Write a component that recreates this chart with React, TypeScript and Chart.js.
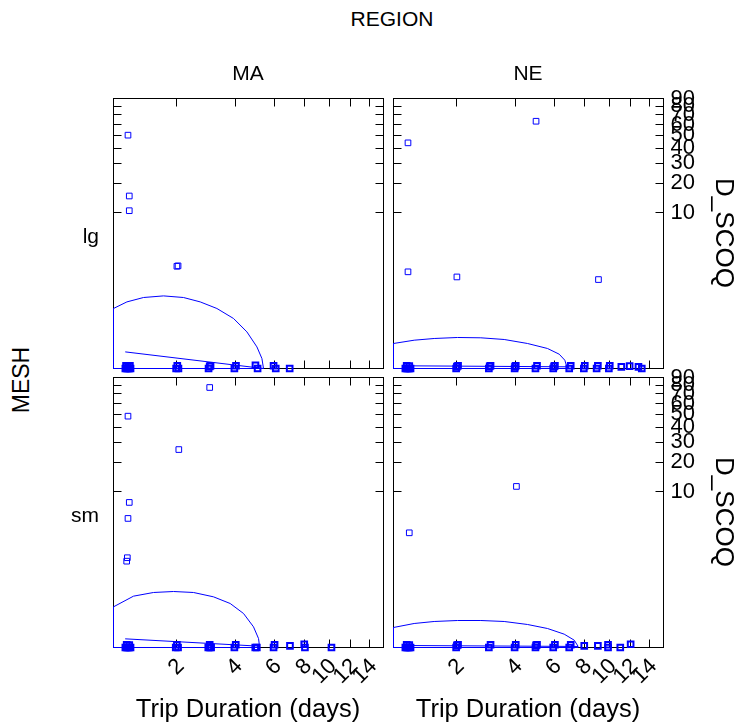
import React, { useEffect, useRef } from "react";
import { Chart, registerables } from "chart.js";
Chart.register(...registerables);

// ---- axes (fourth-root scales on both axes) ----
const X_TICKS = [2, 4, 6, 8, 10, 12, 14];
const Y_TICKS = [10, 20, 30, 40, 50, 60, 70, 80, 90];
const X_MIN_DAYS = 0.794;
const X_MAX_DAYS = 15.63;
const Y_MIN_SCOQ = 0;
const Y_MAX_SCOQ = 90;
const ROOT = 0.25;

const COLS = ["MA", "NE"];
const ROWS = ["lg", "sm"];

// ---- observations with a catch (Trip Duration days, D_SCOQ) ----
const MA_LG_DAYS = [1, 1.02, 1.02, 2.03, 2.0];
const MA_LG_SCOQ = [50.2, 15, 10.5, 1.88, 1.85];
const NE_LG_DAYS = [1, 5, 1, 2, 9.1];
const NE_LG_SCOQ = [43.9, 63.3, 1.48, 1.19, 1.06];
const MA_SM_DAYS = [3, 1, 2.05, 1.02, 1, 0.99, 0.98];
const MA_SM_SCOQ = [77.4, 48.5, 26, 7.5, 4.7, 1.1, 0.94];
const NE_SM_DAYS = [4.06, 1.02];
const NE_SM_SCOQ = [11.4, 2.93];

// ---- near-zero observations (piled on the axis) ----
const MA_LG_ZERO_DAYS = [0.96, 0.98, 1.0, 1.02, 1.04, 0.97, 1.0, 1.03, 1.98, 2.04, 2.01, 2.96, 3.03, 3.0, 3.97, 4.04, 4.97, 5.08, 5.97, 6.1, 6.98];
const MA_LG_ZERO_SCOQ = [0, 0, 0, 0, 0, 1e-6, 5e-7, 1e-6, 0, 0, 1e-6, 0, 1e-6, 3e-7, 0, 1e-6, 2e-6, 0, 1e-6, 0, 0];
const NE_LG_ZERO_DAYS = [0.96, 0.98, 1.0, 1.02, 1.04, 0.98, 1.02, 1.98, 2.03, 2.0, 2.97, 3.03, 3.0, 3.98, 4.03, 4.0, 4.97, 5.05, 5.95, 6.05, 6.0, 6.95, 7.05, 7.97, 8.04, 8.95, 9.05, 9.97, 10.05, 11.1, 11.9, 12.8, 13.15];
const NE_LG_ZERO_SCOQ = [0, 0, 0, 0, 0, 1e-6, 5e-7, 0, 1e-6, 2e-7, 0, 1e-6, 3e-7, 0, 1e-6, 2e-7, 0, 1e-6, 0, 1e-6, 3e-7, 0, 1e-6, 0, 1e-6, 0, 1e-6, 0, 1e-6, 1e-7, 5e-7, 1e-7, 0];
const MA_SM_ZERO_DAYS = [0.96, 0.98, 1.0, 1.02, 1.04, 0.98, 1.02, 1.97, 2.03, 2.0, 2.95, 3.0, 3.05, 3.0, 3.97, 4.03, 4.96, 5.04, 5.97, 6.03, 7.0, 8.0, 8.05, 10.2];
const MA_SM_ZERO_SCOQ = [0, 0, 0, 0, 0, 1e-6, 5e-7, 0, 0, 1e-6, 0, 0, 0, 1e-6, 0, 1e-6, 0, 0, 0, 1e-6, 1.3e-7, 2e-6, 0, 0];
const NE_SM_ZERO_DAYS = [0.96, 0.98, 1.0, 1.02, 1.04, 0.98, 1.02, 1.98, 2.03, 2.0, 2.97, 3.03, 3.98, 4.03, 4.97, 5.05, 5.0, 5.95, 6.05, 6.95, 7.05, 8.0, 9.05, 9.9, 9.9, 11.0, 12.0];
const NE_SM_ZERO_SCOQ = [0, 0, 0, 0, 0, 1e-6, 5e-7, 0, 1e-6, 3e-7, 0, 1e-6, 0, 1e-6, 0, 1e-6, 3e-7, 0, 1e-6, 0, 1e-6, 1e-7, 1e-7, 1e-6, 0, 0, 2e-6];

// ---- fitted curves, in drawing order ----
const MA_LG_FIT_DAYS = [0.958, 5.397, 5.31, 5.045, 4.544, 3.933, 3.262, 2.679, 2.177, 1.674, 1.2625, 0.9833, 0.794, 0.794, 5.397];
const MA_LG_FIT_SCOQ = [0.00129, 0, 0.000169, 0.00369, 0.0304, 0.1059, 0.2195, 0.3333, 0.4303, 0.4705, 0.4303, 0.3333, 0.2195, 0, 0];
const NE_LG_FIT_DAYS = [0.9665, 6.793, 6.663, 6.31, 5.62, 4.573, 3.5455, 2.6987, 2.0156, 1.4716, 1.0995, 0.794, 0.794, 6.793];
const NE_LG_FIT_SCOQ = [9e-7, 1.4e-7, 8.04e-5, 7.08e-4, 0.00271, 0.00662, 0.01198, 0.01504, 0.01564, 0.01372, 0.01086, 0.00662, 0, 0];
const MA_SM_FIT_DAYS = [0.957, 5.182, 5.129, 4.8698, 4.3829, 3.7914, 3.1364, 2.4683, 1.9132, 1.4572, 1.088, 0.794, 0.794, 5.182];
const MA_SM_FIT_SCOQ = [9.57e-5, 5e-8, 0.000111, 0.00309, 0.02264, 0.06347, 0.1116, 0.155, 0.1665, 0.155, 0.1176, 0.04632, 0, 0];
const NE_SM_FIT_DAYS = [0.9665, 7.564, 7.285, 6.623, 5.62, 4.573, 3.5445, 2.6995, 2.0156, 1.4711, 1.099, 0.794, 0.794, 7.564];
const NE_SM_FIT_SCOQ = [2.7e-7, 2e-8, 4.89e-5, 5.35e-4, 0.0022, 0.00474, 0.00774, 0.009, 0.009, 0.00774, 0.00562, 0.00271, 0, 0];

const PANELS = [
  { col: 0, row: 0, days: MA_LG_DAYS, scoq: MA_LG_SCOQ, zDays: MA_LG_ZERO_DAYS, zScoq: MA_LG_ZERO_SCOQ, fitDays: MA_LG_FIT_DAYS, fitScoq: MA_LG_FIT_SCOQ },
  { col: 1, row: 0, days: NE_LG_DAYS, scoq: NE_LG_SCOQ, zDays: NE_LG_ZERO_DAYS, zScoq: NE_LG_ZERO_SCOQ, fitDays: NE_LG_FIT_DAYS, fitScoq: NE_LG_FIT_SCOQ },
  { col: 0, row: 1, days: MA_SM_DAYS, scoq: MA_SM_SCOQ, zDays: MA_SM_ZERO_DAYS, zScoq: MA_SM_ZERO_SCOQ, fitDays: MA_SM_FIT_DAYS, fitScoq: MA_SM_FIT_SCOQ },
  { col: 1, row: 1, days: NE_SM_DAYS, scoq: NE_SM_SCOQ, zDays: NE_SM_ZERO_DAYS, zScoq: NE_SM_ZERO_SCOQ, fitDays: NE_SM_FIT_DAYS, fitScoq: NE_SM_FIT_SCOQ },
];

// ---- layout / style ----
const FONT = '"Liberation Sans", Arial, Helvetica, sans-serif';
const BLUE = "#0000ff";
const PANEL_LEFT = [113, 393];
const PANEL_TOP = [98, 377];
const SIZE = 270;
const M = 25;
const EXTRA_X = 52;
const EXTRA_Y = 55;
const TICK_LEN = 8;

const tf = (v: number) => Math.pow(v, ROOT);

const framePlugin = {
  id: "frameTicks",
  beforeDatasetsDraw(chart: any) {
    const { ctx, chartArea: a, scales } = chart;
    const x = scales.x;
    const y = scales.y;
    ctx.save();
    ctx.strokeStyle = "#000";
    ctx.lineWidth = 1;
    ctx.strokeRect(a.left, a.top, a.right - a.left, a.bottom - a.top);
    ctx.beginPath();
    X_TICKS.forEach((v) => {
      const px = Math.floor(x.getPixelForValue(tf(v))) + 0.5;
      ctx.moveTo(px, a.top);
      ctx.lineTo(px, a.top + TICK_LEN);
      ctx.moveTo(px, a.bottom);
      ctx.lineTo(px, a.bottom - TICK_LEN);
    });
    Y_TICKS.forEach((v) => {
      const py = Math.floor(y.getPixelForValue(tf(v))) + 0.5;
      ctx.moveTo(a.left, py);
      ctx.lineTo(a.left + TICK_LEN, py);
      ctx.moveTo(a.right, py);
      ctx.lineTo(a.right - TICK_LEN, py);
    });
    ctx.stroke();
    ctx.restore();
  },
};

function Panel({ p }: { p: any }) {
  const ref = useRef<HTMLCanvasElement>(null);
  const showX = p.row === 1;
  const showY = p.col === 1;
  const w = M + SIZE + (showY ? EXTRA_Y : M);
  const h = M + SIZE + (showX ? EXTRA_X : M);

  useEffect(() => {
    if (!ref.current) return;
    const chart = new Chart(ref.current, {
      type: "scatter",
      data: {
        datasets: [
          {
            data: p.fitDays.map((d: number, i: number) => ({ x: tf(d), y: tf(p.fitScoq[i]) })),
            showLine: true,
            pointRadius: 0,
            borderColor: BLUE,
            borderWidth: 1,
            fill: false,
            tension: 0,
            clip: 1,
          } as any,
          {
            data: p.zDays.map((d: number, i: number) => ({ x: tf(d), y: tf(p.zScoq[i]) })),
            showLine: false,
            pointStyle: "rect",
            pointRadius: 4,
            borderColor: BLUE,
            backgroundColor: "rgba(0,0,0,0)",
            borderWidth: 2,
            clip: false,
          } as any,
          {
            data: p.days.map((d: number, i: number) => ({ x: tf(d), y: tf(p.scoq[i]) })),
            showLine: false,
            pointStyle: "rect",
            pointRadius: 4,
            borderColor: BLUE,
            backgroundColor: "rgba(0,0,0,0)",
            borderWidth: 1,
            clip: false,
          } as any,
        ],
      },
      options: {
        responsive: false,
        animation: false,
        events: [],
        layout: {
          padding: { left: M + 0.5, top: M + 0.5, right: showY ? 0 : M - 0.5, bottom: showX ? 0 : M - 0.5 },
        },
        plugins: { legend: { display: false }, tooltip: { enabled: false } },
        scales: {
          x: {
            type: "linear",
            position: "bottom",
            min: tf(X_MIN_DAYS),
            max: tf(X_MAX_DAYS),
            display: showX,
            grid: { display: false, drawTicks: false },
            border: { display: false },
            afterBuildTicks: (s: any) => {
              s.ticks = X_TICKS.map((v) => ({ value: tf(v) }));
            },
            afterFit: (s: any) => {
              if (showX) s.height = EXTRA_X - 0.5;
            },
            ticks: {
              autoSkip: false,
              minRotation: 45,
              maxRotation: 45,
              padding: 6,
              labelOffset: 4,
              color: "#000",
              font: { size: 22, family: FONT },
              callback: (_v: any, i: number) => String(X_TICKS[i]),
            },
          },
          y: {
            type: "linear",
            position: "right",
            min: tf(Y_MIN_SCOQ),
            max: tf(Y_MAX_SCOQ),
            display: showY,
            grid: { display: false, drawTicks: false },
            border: { display: false },
            afterBuildTicks: (s: any) => {
              s.ticks = Y_TICKS.map((v) => ({ value: tf(v) }));
            },
            afterFit: (s: any) => {
              if (showY) s.width = EXTRA_Y - 0.5;
            },
            ticks: {
              autoSkip: false,
              padding: 7,
              color: "#000",
              font: { size: 22, family: FONT },
              callback: (_v: any, i: number) => String(Y_TICKS[i]),
            },
          },
        },
      } as any,
      plugins: [framePlugin],
    });
    return () => chart.destroy();
  }, []);

  return (
    <canvas
      ref={ref}
      width={w}
      height={h}
      style={{ position: "absolute", left: PANEL_LEFT[p.col] - M, top: PANEL_TOP[p.row] - M, width: w, height: h }}
    />
  );
}

function Label({ text, x, y, size, rotate = 0, anchor = "center" }: any) {
  const tx = anchor === "right" ? "-100%" : "-50%";
  return (
    <div
      style={{
        position: "absolute",
        left: x,
        top: y,
        transform: `translate(${tx}, -50%) rotate(${rotate}deg)`,
        fontFamily: FONT,
        fontSize: size,
        lineHeight: 1,
        whiteSpace: "nowrap",
        color: "#000",
      }}
    >
      {text}
    </div>
  );
}

export default function App() {
  const colCenters = PANEL_LEFT.map((l) => l + SIZE / 2);
  const rowCenters = PANEL_TOP.map((t) => t + SIZE / 2);
  return (
    <div
      style={{
        position: "fixed",
        left: 0,
        top: 0,
        width: 742,
        height: 726,
        background: "#fff",
        overflow: "hidden",
      }}
    >
      {PANELS.map((p, i) => (
        <Panel key={i} p={p} />
      ))}
      <Label text="REGION" x={392} y={18} size={21} />
      {COLS.map((c, i) => (
        <Label key={c} text={c} x={colCenters[i]} y={72} size={21} />
      ))}
      {ROWS.map((r, i) => (
        <Label key={r} text={r} x={99} y={rowCenters[i] + 2} size={21} anchor="right" />
      ))}
      <Label text="MESH" x={21} y={380} size={23} rotate={-90} />
      {rowCenters.map((c, i) => (
        <Label key={"d" + i} text="D_SCOQ" x={725} y={c} size={26} rotate={90} />
      ))}
      {colCenters.map((c, i) => (
        <Label key={"t" + i} text="Trip Duration (days)" x={c} y={709} size={25.5} />
      ))}
    </div>
  );
}
